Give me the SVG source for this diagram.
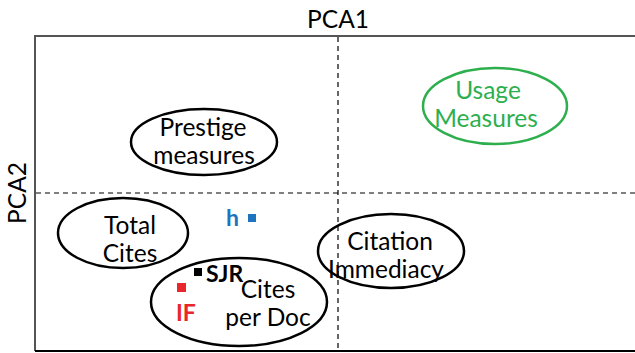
<svg xmlns="http://www.w3.org/2000/svg" width="635" height="353" viewBox="0 0 635 353">
<style>
text{font-family:Lato,"Open Sans","Liberation Sans",sans-serif;font-size:24.5px;fill:#000;text-anchor:middle}
.el{fill:none;stroke:#000;stroke-width:2.5}
.dash{stroke:#000;stroke-width:1.2;stroke-dasharray:5,4;fill:none}
.b{font-weight:bold;text-anchor:start;font-size:23px}
</style>
<rect width="635" height="353" fill="#fff"/>
<g id="frame">
<path d="M35,351 V36 H640" fill="none" stroke="#555" stroke-width="2"/>
<path d="M35,351 H640" fill="none" stroke="#000" stroke-width="2"/>
<text x="338" y="28">PCA1</text>
<text x="0" y="0" transform="translate(26,193) rotate(-90)">PCA2</text>
</g>
<g id="connectors">
<line class="dash" x1="338" y1="37" x2="338" y2="351"/>
<line class="dash" x1="36" y1="193" x2="635" y2="193"/>
</g>
<g id="prestige">
<ellipse class="el" cx="204" cy="142" rx="73" ry="33"/>
<text x="203" y="136">Prestige</text>
<text x="204" y="164">measures</text>
</g>
<g id="usage">
<ellipse class="el" cx="495" cy="106" rx="72" ry="38" style="stroke:#2EAF4E"/>
<text x="488" y="99" style="fill:#2EAF4E">Usage</text>
<text x="486" y="127" style="fill:#2EAF4E">Measures</text>
</g>
<g id="total">
<ellipse class="el" cx="123" cy="233" rx="65" ry="35"/>
<text x="130" y="234">Total</text>
<text x="130" y="262">Cites</text>
</g>
<g id="immediacy">
<ellipse class="el" cx="391" cy="251" rx="73" ry="37"/>
<text x="390" y="250">Citation</text>
<text x="386" y="278">Immediacy</text>
</g>
<g id="citesperdoc">
<ellipse class="el" cx="239" cy="302" rx="88" ry="44"/>
<text x="268" y="298">Cites</text>
<text x="268" y="326">per Doc</text>
</g>
<g id="h">
<rect x="248" y="214" width="8" height="8" fill="#1F74C0"/>
<text class="b" x="226" y="226" style="fill:#1F74C0">h</text>
</g>
<g id="sjr">
<rect x="194" y="268" width="8" height="8" fill="#000"/>
<text class="b" x="206" y="282">SJR</text>
</g>
<g id="if">
<rect x="177" y="283" width="9" height="9" fill="#E8262B"/>
<text class="b" x="176" y="321" style="fill:#E8262B">IF</text>
</g>
</svg>
